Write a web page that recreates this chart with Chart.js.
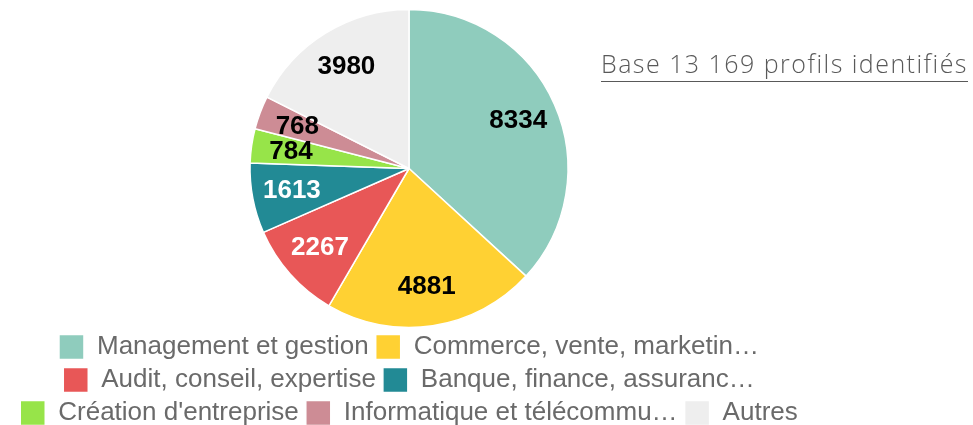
<!DOCTYPE html>
<html>
<head>
<meta charset="utf-8">
<script src="https://cdn.jsdelivr.net/npm/chart.js@4/dist/chart.umd.min.js"></script>
<style>
  html, body { margin: 0; padding: 0; background: #fff; overflow: hidden; }
  body { width: 973px; height: 425px; position: relative; }
  #wrap { position: absolute; left: 9px; top: 0; width: 800px; height: 436px; }
  #base {
    position: absolute; left: 601px; top: 46px;
    font-family: "Open Sans", sans-serif; font-weight: 300; font-size: 25px;
    color: #595959; text-decoration: underline; text-underline-offset: 8px;
    text-decoration-thickness: 1px; white-space: nowrap;
  }
</style>
</head>
<body>
<div id="wrap"><canvas id="pie-chart"></canvas></div>
<div id="base">Base 13 169 profils identifiés</div>
<script>
// categories (legend text as shown, already truncated)
var categories = [
  "Management et gestion",
  "Commerce, vente, marketin\u2026",
  "Audit, conseil, expertise",
  "Banque, finance, assuranc\u2026",
  "Cr\u00e9ation d'entreprise",
  "Informatique et t\u00e9l\u00e9commu\u2026",
  "Autres"
];
var profils = [8334, 4881, 2267, 1613, 784, 768, 3980];

var sliceColors = ["#8fccbd", "#ffd133", "#e85757", "#228a95", "#97e449", "#cd8c95", "#eeeeee"];
var valueColors = ["#000", "#000", "#fff", "#fff", "#000", "#000", "#000"];

// draw the value inside each slice
var sliceValues = {
  id: "sliceValues",
  afterDatasetsDraw: function (chart) {
    let ctx = chart.ctx;
    let meta = chart.getDatasetMeta(0);
    ctx.save();
    ctx.font = "bold 26px 'Liberation Sans', Arial, sans-serif";
    ctx.textAlign = "center";
    ctx.textBaseline = "middle";
    meta.data.forEach(function (arc, i) {
      let p = arc.getProps(["x", "y", "startAngle", "endAngle", "outerRadius"], true);
      let mid = (p.startAngle + p.endAngle) / 2;
      let r = p.outerRadius * 0.75;
      ctx.fillStyle = valueColors[i];
      ctx.fillText(String(profils[i]), p.x + Math.cos(mid) * r, p.y + Math.sin(mid) * r);
    });
    ctx.restore();
  }
};

new Chart(document.getElementById("pie-chart").getContext("2d"), {
  type: "pie",
  data: {
    labels: categories,
    datasets: [{
      data: profils,
      backgroundColor: sliceColors,
      borderColor: "#ffffff",
      borderWidth: 1.5
    }]
  },
  options: {
    responsive: true,
    maintainAspectRatio: false,
    animation: false,
    radius: 159,
    layout: { padding: { top: 10 } },
    plugins: {
      tooltip: { enabled: false },
      legend: {
        position: "bottom",
        labels: {
          font: { family: "'Liberation Sans', Arial, sans-serif", size: 26 },
          color: "#6a6a6a",
          boxWidth: 25,
          boxHeight: 25,
          padding: 7
        }
      }
    }
  },
  plugins: [sliceValues]
});

// stretch the title text to the width it has in the picture
(function () {
  let el = document.getElementById("base");
  let w = el.getBoundingClientRect().width;
  let n = el.textContent.length;
  el.style.letterSpacing = ((367 - w) / n) + "px";
})();
</script>
</body>
</html>
